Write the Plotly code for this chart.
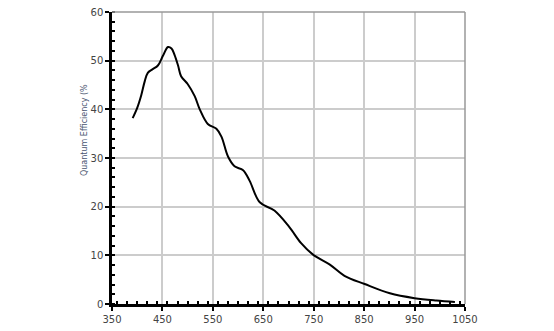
import plotly.graph_objects as go

wavelength = [391, 400, 408, 415, 421, 430, 441, 451, 461, 468, 474, 481, 487, 500, 514, 524, 540, 557, 567, 580, 593, 610, 623,
              643, 672, 701, 725, 748, 782, 811, 851, 901, 950, 993, 1030]
qe = [38.2, 40.3, 42.9, 45.8, 47.5, 48.2, 49.0, 51.0, 52.8, 52.5, 51.2, 49.0, 46.8, 45.2, 42.7, 40.0, 37.0, 36.0, 34.4, 30.3, 28.3, 27.5, 25.3,
      20.9, 19.2, 15.9, 12.5, 10.2, 8.1, 5.8, 4.1, 2.2, 1.2, 0.7, 0.4]
x_ticks = [350, 450, 550, 650, 750, 850, 950, 1050]
y_ticks = [0, 10, 20, 30, 40, 50, 60]
y_title = "Quantum Efficiency (%"

fig = go.Figure()
fig.add_trace(go.Scatter(x=wavelength, y=qe, mode="lines",
                         line=dict(color="black", width=2, shape="spline", smoothing=1.0),
                         showlegend=False, hoverinfo="skip"))

font = dict(family="DejaVu Sans", size=10, color="#444444")
fig.update_xaxes(range=[350, 1050], tickvals=x_ticks, ticktext=[str(v) for v in x_ticks],
                 showline=True, linecolor="black", linewidth=2.5,
                 ticks="outside", ticklen=4, tickwidth=2, tickcolor="black",
                 showgrid=True, gridcolor="#cccccc", gridwidth=1.5, zeroline=False,
                 minor=dict(dtick=20, ticks="inside", ticklen=3, tickwidth=2, tickcolor="black", showgrid=False),
                 tickfont=font, fixedrange=True)
fig.update_yaxes(range=[0, 60], tickvals=y_ticks, ticktext=[str(v) for v in y_ticks],
                 showline=True, linecolor="black", linewidth=2.5,
                 ticks="outside", ticklen=4, tickwidth=2, tickcolor="black",
                 showgrid=True, gridcolor="#cccccc", gridwidth=1.5, zeroline=False,
                 minor=dict(dtick=2, ticks="inside", ticklen=3, tickwidth=2, tickcolor="black", showgrid=False),
                 tickfont=font, fixedrange=True)

fig.add_shape(type="line", xref="paper", yref="paper", x0=0, x1=1, y0=1, y1=1,
              line=dict(color="#999999", width=1.5), layer="above")
fig.add_shape(type="line", xref="paper", yref="paper", x0=1, x1=1, y0=0, y1=1,
              line=dict(color="#999999", width=1.5), layer="above")

fig.add_annotation(text=y_title, xref="paper", yref="paper", x=-0.08, y=0.595,
                   textangle=-90, showarrow=False, xanchor="center", yanchor="middle",
                   font=dict(family="DejaVu Sans", size=8, color="#4a5570"))

fig.update_layout(width=554, height=331, margin=dict(l=112, r=89, t=6, b=27),
                  paper_bgcolor="white", plot_bgcolor="white")
fig.write_html("out.html")
